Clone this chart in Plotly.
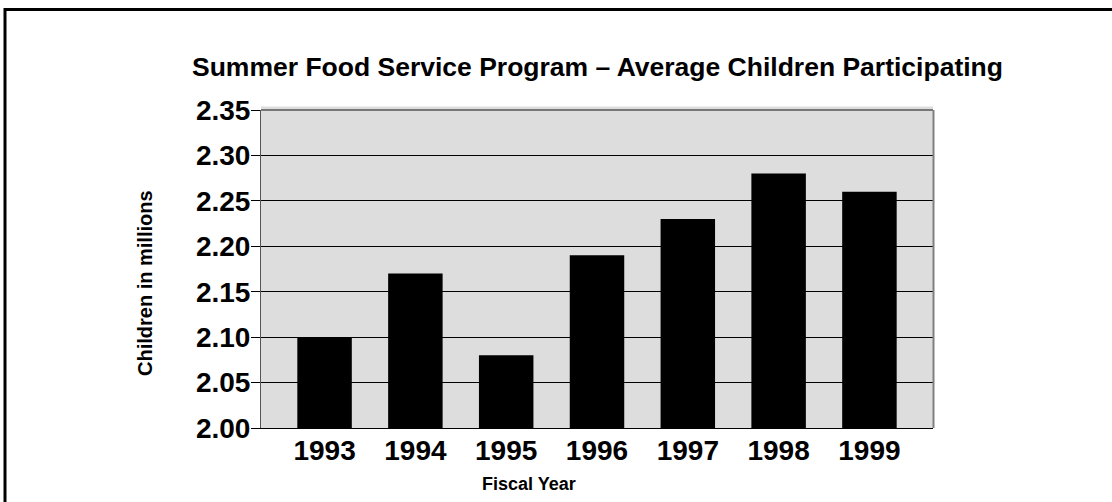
import plotly.graph_objects as go

years = ["1993", "1994", "1995", "1996", "1997", "1998", "1999"]
children_millions = [2.10, 2.17, 2.08, 2.19, 2.23, 2.28, 2.26]
y_ticks = [2.00, 2.05, 2.10, 2.15, 2.20, 2.25, 2.30, 2.35]
y_tick_labels = ["2.00", "2.05", "2.10", "2.15", "2.20", "2.25", "2.30", "2.35"]

W, H = 1112, 502
L, R, T, B = 261, 179, 110, 74
pw, ph = W - L - R, H - T - B

def px_x(p):
    return (p - L) / pw

def px_y(p):
    return (H - B - p) / ph

FONT = "Liberation Sans, Arial, sans-serif"

fig = go.Figure()
fig.add_trace(go.Bar(x=years, y=children_millions, marker=dict(color="black", line=dict(width=0)),
                     hoverinfo="x+y"))

fig.update_layout(
    width=W, height=H,
    margin=dict(l=L, r=R, t=T, b=B, autoexpand=False),
    paper_bgcolor="white",
    plot_bgcolor="#dddddd",
    bargap=0.4,
    showlegend=False,
    font=dict(family=FONT, color="black"),
)
fig.update_xaxes(
    type="category", range=[-0.7, 6.7],
    showgrid=False, showline=True, linecolor="black", linewidth=1,
    ticks="", tickfont=dict(family=FONT, size=28, weight="bold", color="black"),
    ticklabelstandoff=-3,
)
fig.update_yaxes(
    range=[2.0, 2.35], tickvals=y_ticks, ticktext=y_tick_labels,
    showgrid=True, gridcolor="black", gridwidth=1,
    showline=True, linecolor="#555555", linewidth=1,
    ticks="outside", ticklen=9, tickcolor="black", tickwidth=1,
    tickfont=dict(family=FONT, size=28, weight="bold", color="black"),
    ticklabelstandoff=-5, zeroline=False,
)

shapes = [
    # light shadow strip above plot
    dict(type="rect", xref="paper", yref="paper", x0=0, x1=1, y0=1, y1=1 + 3.5 / ph,
         fillcolor="#dddddd", line=dict(width=0), layer="below"),
    # top edge (dark gray)
    dict(type="line", xref="paper", yref="paper", x0=0, x1=1, y0=1, y1=1,
         line=dict(color="#555555", width=1.5)),
    # right edge (gray)
    dict(type="line", xref="paper", yref="paper", x0=1 + 0.5 / pw, x1=1 + 0.5 / pw, y0=0, y1=1,
         line=dict(color="#808080", width=2)),
    # outer frame
    dict(type="rect", xref="paper", yref="paper", x0=px_x(5), x1=px_x(1200), y0=px_y(600), y1=px_y(9.5),
         line=dict(color="black", width=3), fillcolor="rgba(0,0,0,0)"),
]
fig.update_layout(shapes=shapes)

fig.add_annotation(text="Summer Food Service Program – Average Children Participating",
                   xref="paper", yref="paper", x=px_x(597.5), y=px_y(67),
                   xanchor="center", yanchor="middle", showarrow=False,
                   font=dict(family=FONT, size=26.5, weight="bold", color="black"))
fig.add_annotation(text="Fiscal Year", xref="paper", yref="paper", x=px_x(529), y=px_y(484),
                   xanchor="center", yanchor="middle", showarrow=False,
                   font=dict(family=FONT, size=18, weight="bold", color="black"))
fig.add_annotation(text="Children in millions", xref="paper", yref="paper", x=px_x(145), y=px_y(283),
                   xanchor="center", yanchor="middle", showarrow=False, textangle=-90,
                   font=dict(family=FONT, size=20, weight="bold", color="black"))

fig.write_html("out.html")
